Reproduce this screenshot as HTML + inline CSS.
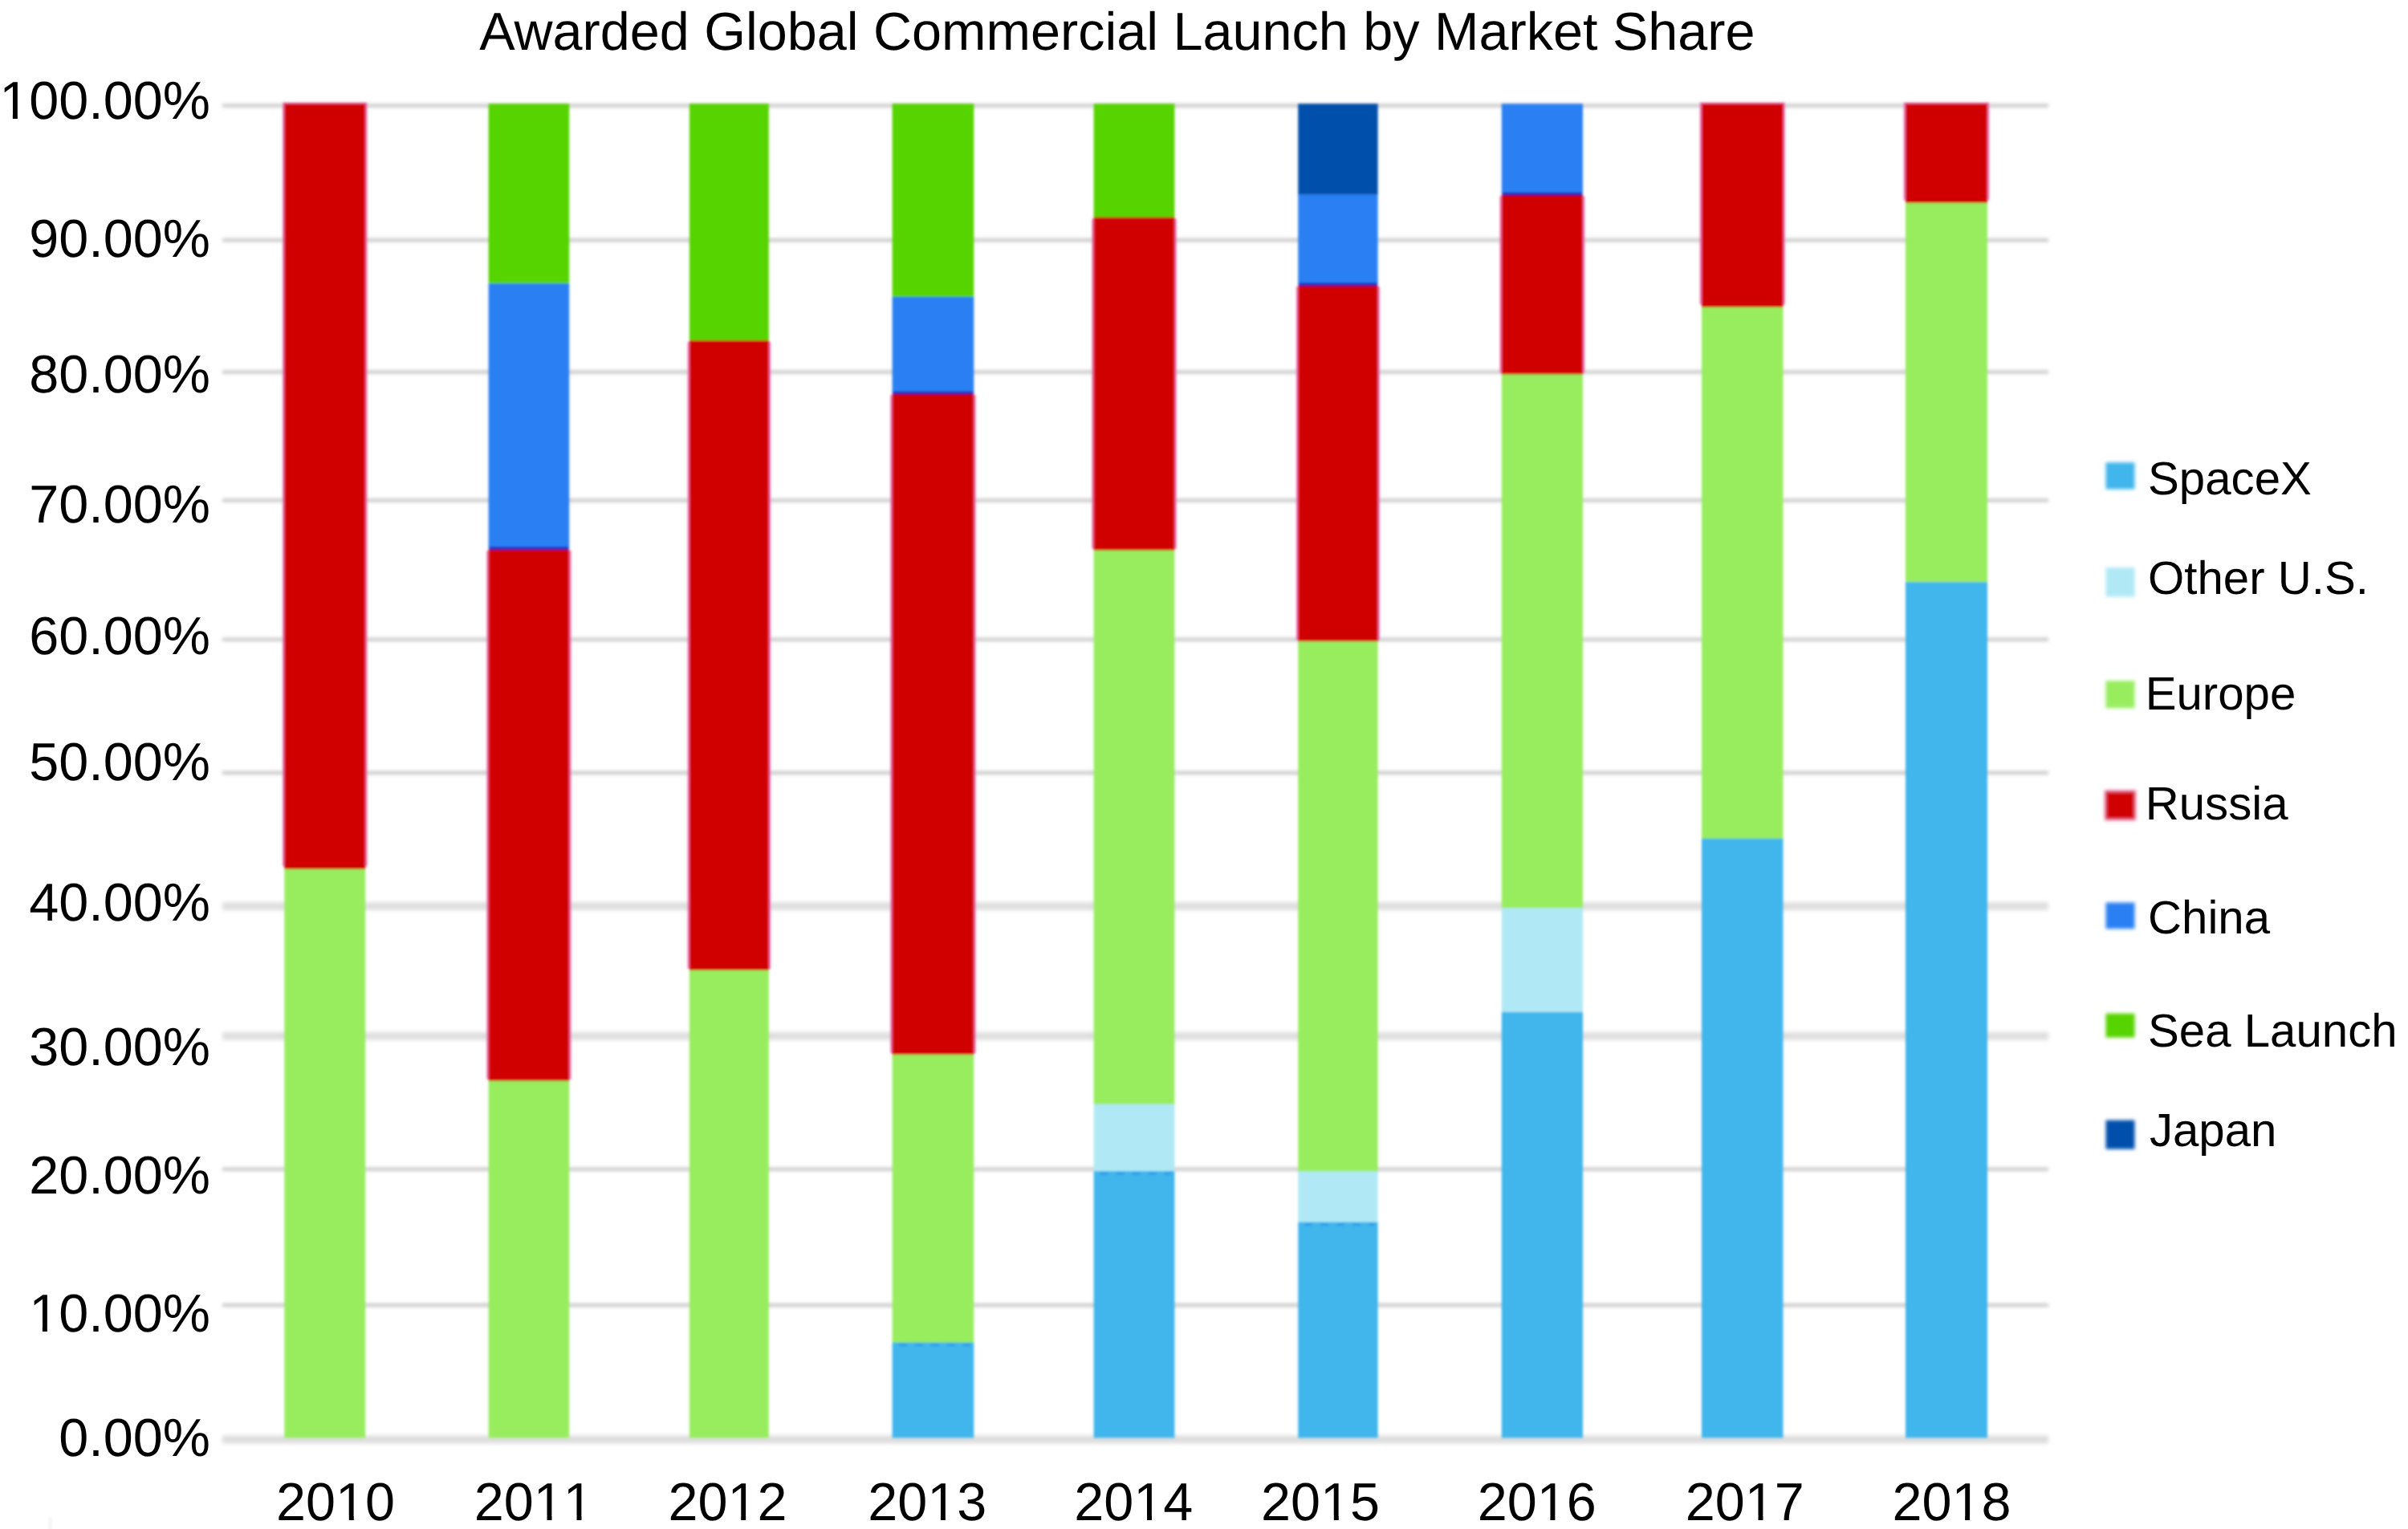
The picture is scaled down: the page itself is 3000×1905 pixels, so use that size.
<!DOCTYPE html>
<html lang="en"><head><meta charset="utf-8"><title>Awarded Global Commercial Launch by Market Share</title>
<style>html,body{margin:0;padding:0;background:#fff}body{width:3000px;height:1905px;overflow:hidden}svg{display:block}text{font-family:"Liberation Sans",Arial,Helvetica,sans-serif;fill:#000;text-rendering:geometricPrecision}.nk text{font-kerning:none}</style></head><body>
<svg width="3000" height="1905" viewBox="0 0 3000 1905">
<defs><filter id="b1" x="-5%" y="-5%" width="110%" height="110%"><feGaussianBlur stdDeviation="1.6"/></filter><filter id="b2" x="-20%" y="-20%" width="140%" height="140%"><feGaussianBlur stdDeviation="2.2"/></filter>
<filter id="g0" x="-1%" y="-300%" width="102%" height="700%"><feGaussianBlur stdDeviation="2.0"/></filter>
<filter id="g1" x="-1%" y="-300%" width="102%" height="700%"><feGaussianBlur stdDeviation="2.6"/></filter>
</defs>
<rect width="3000" height="1905" fill="#fff"/>
<g id="grid">
<rect x="277" y="129.6" width="2275" height="4" fill="#c6c6c6" filter="url(#g0)"/>
<rect x="277" y="297.2" width="2275" height="4" fill="#c6c6c6" filter="url(#g0)"/>
<rect x="277" y="461.5" width="2275" height="4" fill="#c6c6c6" filter="url(#g0)"/>
<rect x="277" y="621.4" width="2275" height="4" fill="#c6c6c6" filter="url(#g0)"/>
<rect x="277" y="794.7" width="2275" height="4" fill="#c6c6c6" filter="url(#g0)"/>
<rect x="277" y="960.8" width="2275" height="4" fill="#c6c6c6" filter="url(#g0)"/>
<rect x="277" y="1124.0" width="2275" height="10" fill="#dfdfdf" filter="url(#g1)"/>
<rect x="277" y="1285.9" width="2275" height="10" fill="#dfdfdf" filter="url(#g1)"/>
<rect x="277" y="1454.7" width="2275" height="4" fill="#c6c6c6" filter="url(#g0)"/>
<rect x="277" y="1624.1" width="2275" height="4" fill="#c6c6c6" filter="url(#g0)"/>
<rect x="277" y="1788.5" width="2275" height="10" fill="#dddddd" filter="url(#g1)"/>
</g>
<g id="bars" filter="url(#b1)">
<rect x="352.1" y="127.8" width="105.3" height="951.6" fill="#f06aa8"/>
<rect x="354.3" y="129.3" width="100.9" height="954.2" fill="#d00000"/>
<rect x="354.3" y="1082.9" width="100.9" height="708.6" fill="#98ed5f"/>
<rect x="606.4" y="686.0" width="105.0" height="658.6" fill="#f06aa8"/>
<rect x="608.6" y="129.3" width="100.6" height="224.5" fill="#56d400"/>
<rect x="608.6" y="353.2" width="100.6" height="331.4" fill="#2a80f3"/>
<rect x="608.6" y="684.0" width="100.6" height="663.2" fill="#d00000"/>
<rect x="608.6" y="1346.6" width="100.6" height="444.9" fill="#98ed5f"/>
<rect x="856.7" y="425.9" width="103.3" height="781.0" fill="#f06aa8"/>
<rect x="858.9" y="129.3" width="98.9" height="295.2" fill="#56d400"/>
<rect x="858.9" y="423.9" width="98.9" height="785.6" fill="#d00000"/>
<rect x="858.9" y="1208.9" width="98.9" height="582.6" fill="#98ed5f"/>
<rect x="1109.4" y="492.2" width="106.1" height="819.9" fill="#f06aa8"/>
<rect x="1111.6" y="129.3" width="101.7" height="241.1" fill="#56d400"/>
<rect x="1111.6" y="369.8" width="101.7" height="121.0" fill="#2a80f3"/>
<rect x="1111.6" y="490.2" width="101.7" height="824.5" fill="#d00000"/>
<rect x="1111.6" y="1314.1" width="101.7" height="359.1" fill="#98ed5f"/>
<rect x="1111.6" y="1672.6" width="101.7" height="118.9" fill="#41b6ec"/>
<rect x="1360.4" y="272.6" width="105.2" height="411.0" fill="#f06aa8"/>
<rect x="1362.6" y="129.3" width="100.8" height="141.9" fill="#56d400"/>
<rect x="1362.6" y="270.6" width="100.8" height="415.6" fill="#d00000"/>
<rect x="1362.6" y="685.6" width="100.8" height="690.7" fill="#98ed5f"/>
<rect x="1362.6" y="1375.7" width="100.8" height="83.9" fill="#b0e9f5"/>
<rect x="1362.6" y="1459.0" width="100.8" height="332.5" fill="#41b6ec"/>
<rect x="1615.0" y="357.1" width="103.8" height="440.1" fill="#f06aa8"/>
<rect x="1617.2" y="129.3" width="99.4" height="113.6" fill="#0050ab"/>
<rect x="1617.2" y="242.3" width="99.4" height="113.4" fill="#2a80f3"/>
<rect x="1617.2" y="355.1" width="99.4" height="444.7" fill="#d00000"/>
<rect x="1617.2" y="799.2" width="99.4" height="660.8" fill="#98ed5f"/>
<rect x="1617.2" y="1459.4" width="99.4" height="63.8" fill="#b0e9f5"/>
<rect x="1617.2" y="1522.6" width="99.4" height="268.9" fill="#41b6ec"/>
<rect x="1868.6" y="244.3" width="105.6" height="220.1" fill="#f06aa8"/>
<rect x="1870.8" y="129.3" width="101.2" height="113.6" fill="#2a80f3"/>
<rect x="1870.8" y="242.3" width="101.2" height="224.7" fill="#d00000"/>
<rect x="1870.8" y="466.4" width="101.2" height="665.5" fill="#98ed5f"/>
<rect x="1870.8" y="1131.3" width="101.2" height="130.2" fill="#b0e9f5"/>
<rect x="1870.8" y="1260.9" width="101.2" height="530.6" fill="#41b6ec"/>
<rect x="2117.8" y="127.8" width="105.9" height="251.5" fill="#f06aa8"/>
<rect x="2120.0" y="129.3" width="101.5" height="254.1" fill="#d00000"/>
<rect x="2120.0" y="382.8" width="101.5" height="662.6" fill="#98ed5f"/>
<rect x="2120.0" y="1044.8" width="101.5" height="746.7" fill="#41b6ec"/>
<rect x="2371.8" y="127.8" width="106.4" height="121.5" fill="#f06aa8"/>
<rect x="2374.0" y="129.3" width="102.0" height="124.1" fill="#d00000"/>
<rect x="2374.0" y="252.8" width="102.0" height="472.9" fill="#98ed5f"/>
<rect x="2374.0" y="725.1" width="102.0" height="1066.4" fill="#41b6ec"/>
<line x1="1119.6" y1="1675.6" x2="1209.3" y2="1675.6" stroke="#2a92ea" stroke-width="3" stroke-dasharray="10 10" opacity="0.75"/>
<line x1="1370.6" y1="1462.0" x2="1459.4" y2="1462.0" stroke="#2a92ea" stroke-width="3" stroke-dasharray="10 10" opacity="0.75"/>
<line x1="1625.2" y1="1525.6" x2="1712.6" y2="1525.6" stroke="#2a92ea" stroke-width="3" stroke-dasharray="10 10" opacity="0.75"/>
<rect x="609.6" y="681.6" width="98.6" height="3.4" fill="#1414b4"/>
<rect x="1112.6" y="487.8" width="99.7" height="3.4" fill="#1414b4"/>
<rect x="1618.2" y="352.7" width="97.4" height="3.4" fill="#1414b4"/>
<rect x="1871.8" y="239.9" width="99.2" height="3.4" fill="#1414b4"/>
<rect x="60.5" y="1891" width="4.5" height="16" fill="#f4f4f4"/>
</g>
<text x="1391.9" y="62.1" font-size="66.55" text-anchor="middle">Awarded Global Commercial Launch by Market Share</text>
<g class="nk" font-size="66.55" text-anchor="end">
<text x="261.9" y="148.3">100.00%</text>
<text x="261.9" y="319.8">90.00%</text>
<text x="261.9" y="489.3">80.00%</text>
<text x="261.9" y="651.3">70.00%</text>
<text x="261.9" y="815.4">60.00%</text>
<text x="261.9" y="971.8">50.00%</text>
<text x="261.9" y="1146.6">40.00%</text>
<text x="261.9" y="1327.4">30.00%</text>
<text x="261.9" y="1486.7">20.00%</text>
<text x="261.9" y="1658.8">10.00%</text>
<text x="261.9" y="1814.1">0.00%</text>
</g>
<g class="nk" font-size="66.55">
<text x="344.1" y="1893.8">2010</text>
<text x="590.8" y="1893.8">2011</text>
<text x="832.5" y="1893.8">2012</text>
<text x="1081.2" y="1893.8">2013</text>
<text x="1338.3" y="1893.8">2014</text>
<text x="1571.1" y="1893.8">2015</text>
<text x="1840.7" y="1893.8">2016</text>
<text x="2099.8" y="1893.8">2017</text>
<text x="2357.4" y="1893.8">2018</text>
</g>
<g id="onefix" fill="#fff">
<rect x="2.45" y="143.00" width="13.42" height="6.60"/>
<rect x="21.84" y="143.00" width="12.95" height="6.60"/>
<rect x="39.46" y="1653.50" width="13.42" height="6.60"/>
<rect x="58.86" y="1653.50" width="12.95" height="6.60"/>
<rect x="421.39" y="1888.50" width="13.42" height="6.60"/>
<rect x="440.79" y="1888.50" width="12.95" height="6.60"/>
<rect x="668.09" y="1888.50" width="13.42" height="6.60"/>
<rect x="687.49" y="1888.50" width="12.95" height="6.60"/>
<rect x="705.11" y="1888.50" width="13.42" height="6.60"/>
<rect x="724.50" y="1888.50" width="12.95" height="6.60"/>
<rect x="909.79" y="1888.50" width="13.42" height="6.60"/>
<rect x="929.19" y="1888.50" width="12.95" height="6.60"/>
<rect x="1158.49" y="1888.50" width="13.42" height="6.60"/>
<rect x="1177.89" y="1888.50" width="12.95" height="6.60"/>
<rect x="1415.59" y="1888.50" width="13.42" height="6.60"/>
<rect x="1434.99" y="1888.50" width="12.95" height="6.60"/>
<rect x="1648.39" y="1888.50" width="13.42" height="6.60"/>
<rect x="1667.79" y="1888.50" width="12.95" height="6.60"/>
<rect x="1917.99" y="1888.50" width="13.42" height="6.60"/>
<rect x="1937.39" y="1888.50" width="12.95" height="6.60"/>
<rect x="2177.09" y="1888.50" width="13.42" height="6.60"/>
<rect x="2196.49" y="1888.50" width="12.95" height="6.60"/>
<rect x="2434.69" y="1888.50" width="13.42" height="6.60"/>
<rect x="2454.09" y="1888.50" width="12.95" height="6.60"/>
</g>
<g id="legend" font-size="58.2">
<g filter="url(#b2)">
<rect x="2621.7" y="984.2" width="39.6" height="38.1" fill="#f28ab8"/>
<rect x="2623.5" y="576.2" width="36" height="33.3" fill="#41b6ec"/>
<rect x="2623.5" y="707.0" width="36" height="36.5" fill="#b0e9f5"/>
<rect x="2623.5" y="848.2" width="36" height="34.0" fill="#98ed5f"/>
<rect x="2623.5" y="986.0" width="36" height="34.5" fill="#d00000"/>
<rect x="2623.5" y="1124.5" width="36" height="32.7" fill="#2a80f3"/>
<rect x="2623.5" y="1262.7" width="36" height="29.9" fill="#56d400"/>
<rect x="2623.5" y="1395.6" width="36" height="36.1" fill="#0050ab"/>
</g>
<text x="2676.0" y="616.1">SpaceX</text>
<text x="2676.0" y="740.2">Other U.S.</text>
<text x="2672.7" y="884.2">Europe</text>
<text x="2672.7" y="1021.4">Russia</text>
<text x="2676.0" y="1163.1">China</text>
<text x="2676.0" y="1303.9">Sea Launch</text>
<text x="2677.9" y="1428.3">Japan</text>
</g>
</svg></body></html>
